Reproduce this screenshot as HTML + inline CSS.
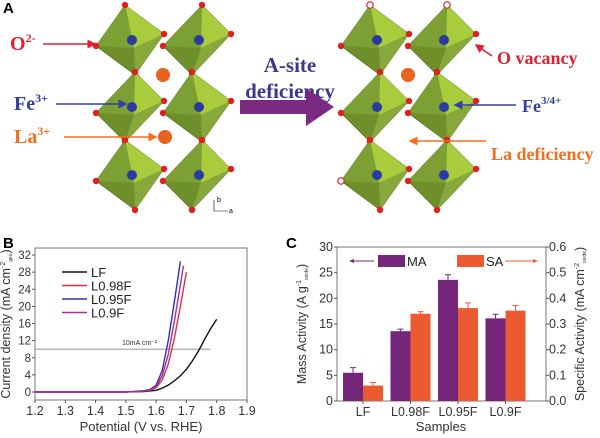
<!DOCTYPE html>
<html><head><meta charset="utf-8"><style>
body{margin:0;background:#fff;}
svg{display:block;font-family:"Liberation Sans",sans-serif;}
.ser{font-family:"Liberation Serif",serif;font-weight:bold;}
</style></head><body>
<svg width="600" height="438" viewBox="0 0 600 438">
<defs>
<marker id="arR" markerWidth="6" markerHeight="6" refX="5" refY="3" orient="auto"><path d="M0,0 L6,3 L0,6z" fill="#e02030"/></marker>
<marker id="arB" markerWidth="6" markerHeight="6" refX="5" refY="3" orient="auto"><path d="M0,0 L6,3 L0,6z" fill="#3040a0"/></marker>
<marker id="arO" markerWidth="6" markerHeight="6" refX="5" refY="3" orient="auto"><path d="M0,0 L6,3 L0,6z" fill="#f07020"/></marker>
</defs>
<g id="panelA"></g>
<text x="3" y="13" font-size="15" font-weight="bold">A</text>
<text x="10" y="50" class="ser" font-size="20" fill="#e02030">O<tspan font-size="12" dy="-8">2-</tspan></text>
<line x1="43" y1="44" x2="95" y2="44" stroke="#e02030" stroke-width="1.5" marker-end="url(#arR)"/>
<text x="14" y="110" class="ser" font-size="20" fill="#3040a0">Fe<tspan font-size="12" dy="-8">3+</tspan></text>
<line x1="56" y1="104" x2="126" y2="104" stroke="#3040a0" stroke-width="1.5" marker-end="url(#arB)"/>
<text x="14" y="143" class="ser" font-size="20" fill="#f07020">La<tspan font-size="12" dy="-8">3+</tspan></text>
<line x1="64" y1="137" x2="156" y2="137" stroke="#f07020" stroke-width="1.5" marker-end="url(#arO)"/>
<text x="290" y="72" class="ser" font-size="21" fill="#3a3a8c" text-anchor="middle">A-site</text>
<text x="290" y="98" class="ser" font-size="21" fill="#3a3a8c" text-anchor="middle">deficiency</text>
<path d="M240,100 L306,100 L306,88 L334,107 L306,126 L306,114 L240,114z" fill="#7a2a80"/>
<text x="497" y="64" class="ser" font-size="18" fill="#e02030">O vacancy</text>
<line x1="492" y1="56" x2="476" y2="45" stroke="#e02030" stroke-width="1.5" marker-end="url(#arR)"/>
<text x="522" y="112" class="ser" font-size="18" fill="#3040a0">Fe<tspan font-size="11" dy="-8">3/4+</tspan></text>
<line x1="516" y1="105" x2="455" y2="105" stroke="#3040a0" stroke-width="1.5" marker-end="url(#arB)"/>
<text x="491" y="160" class="ser" font-size="18" fill="#f07020">La deficiency</text>
<line x1="486" y1="141" x2="410" y2="141" stroke="#f07020" stroke-width="1.5" marker-end="url(#arO)"/>

<g id="panelB"></g>
<g id="panelC"></g>
</svg>
<script>
const NS="http://www.w3.org/2000/svg";
function mk(p,t,a,txt){const e=document.createElementNS(NS,t);for(const k in a)e.setAttribute(k,a[k]);if(txt!==undefined)e.textContent=txt;p.appendChild(e);return e;}
// Panel A
const A=document.getElementById('panelA');
const octCx=[130,197],octCy=[40,107,175];
[0,245].forEach((off,si)=>{
 octCy.forEach((cy,r)=>octCx.forEach((cx,c)=>{
  const x=cx+off,tilt=((r+c)%2?5:-5);
  const T=[x+tilt,cy-35],R=[x+34,cy-6],B=[x-tilt,cy+35],L=[x-34,cy+6],F=[x+4,cy+8];
  const g=mk(A,'g',{});
  
  
  mk(g,'polygon',{points:[T,R,B,L].join(' '),fill:'#6e8f2a',stroke:'#4f6a1c','stroke-width':0.6});
  mk(g,'polygon',{points:[T,R,F].join(' '),fill:'#a8cc3c'});
  mk(g,'polygon',{points:[T,L,F].join(' '),fill:'#7da034'});
  mk(g,'polygon',{points:[B,R,F].join(' '),fill:'#87a83a'});
  mk(g,'circle',{cx:x+2,cy:cy,r:5,fill:'#2a3aa0'});
  [T,R,B,L].forEach((p,i)=>{
   const vac=si===1&&((r===0&&c===1&&i===0)||(r===2&&c===0&&i===3)||(r===0&&c===0&&i===0));
   mk(g,'circle',{cx:p[0],cy:p[1],r:3.2,fill:vac?'#fff':'#e02020',stroke:'#e02020','stroke-width':vac?1.2:0});
  });
 }));
 const las=si===0?[[163,75],[165,137]]:[[408,75]];
 las.forEach(p=>{const c=mk(A,'circle',{cx:p[0],cy:p[1],r:7,fill:'#e8641c'});});
});
mk(A,'text',{x:217,y:202,'font-size':7},'b');mk(A,'text',{x:229,y:213,'font-size':7},'a');
mk(A,'path',{d:'M214,200 V211 H228',stroke:'#000',fill:'none','stroke-width':0.6});

// Panel B data
const bTicksX=[1.2,1.3,1.4,1.5,1.6,1.7,1.8,1.9];
const bTicksY=[0,4,8,12,16,20,24,28,32];
const bNames=['LF','L0.98F','L0.95F','L0.9F'];
const bColors=['#111','#e03040','#3030b0','#a030a0'];
const lfV=[1.2,1.5,1.56,1.6,1.62,1.64,1.66,1.68,1.70,1.72,1.74,1.76,1.78,1.80];
const lfI=[0,0,0.1,0.4,0.9,1.6,2.6,3.8,5.3,7.3,9.6,12.3,14.8,17];
const l98V=[1.2,1.5,1.56,1.58,1.60,1.62,1.64,1.66,1.68,1.70];
const l98I=[0,0,0.2,0.4,1.0,2.8,6.5,12.5,20,28];
const l95V=[1.2,1.5,1.56,1.58,1.60,1.62,1.64,1.66,1.68];
const l95I=[0,0,0.3,0.6,1.6,5,12,21,30.5];
const l9V=[1.2,1.5,1.56,1.58,1.60,1.62,1.64,1.66,1.68,1.69];
const l9I=[0,0,0.25,0.5,1.2,3.8,8.8,16.5,25,29.5];
const bSeriesV=[lfV,l98V,l95V,l9V],bSeriesI=[lfI,l98I,l95I,l9I];
const B=document.getElementById('panelB');
const bx=v=>35+(v-1.2)/(0.7)*212, by=i=>392-i/32*137;
mk(B,'text',{x:3,y:248,'font-size':15,'font-weight':'bold'},'B');
const bf=mk(B,'rect',{x:35,y:248,width:212,height:152,fill:'none',stroke:'#555','stroke-width':0.8});

bTicksX.forEach(t=>{mk(B,'line',{x1:bx(t),x2:bx(t),y1:400,y2:403,stroke:'#555'});
 const l=mk(B,'text',{x:bx(t),y:415,'font-size':12.5,'text-anchor':'middle',fill:'#333'},t.toFixed(1));
 });
bTicksY.forEach(t=>{mk(B,'line',{x1:32,x2:35,y1:by(t),y2:by(t),stroke:'#555'});
 const l=mk(B,'text',{x:31,y:by(t)+4,'font-size':11.5,'text-anchor':'end',fill:'#333'},t);
 });
let xt=mk(B,'text',{x:141,y:431,'font-size':13,'text-anchor':'middle',fill:'#333'},'Potential (V vs. RHE)');

let yt=mk(B,'text',{x:0,y:0,'font-size':12.5,'text-anchor':'middle',fill:'#333',transform:'translate(10,324) rotate(-90)'},'Current density (mA cm');

mk(yt,'tspan',{'font-size':7,dy:-5},'-2');mk(yt,'tspan',{'font-size':5,dy:7},'geo');mk(yt,'tspan',{dy:-2},')');
const ref=mk(B,'line',{x1:35,x2:bx(1.78),y1:by(10),y2:by(10),stroke:'#888','stroke-width':0.8});

mk(B,'text',{x:122,y:by(10)-4,'font-size':7,fill:'#333'},'10mA cm⁻²');
bSeriesV.forEach((vs,k)=>{
 const p=mk(B,'polyline',{points:vs.map((v,i)=>bx(v)+','+by(bSeriesI[k][i])).join(' '),fill:'none',stroke:bColors[k],'stroke-width':1.4});
 
 const ly=272+k*13.5;
 const le=mk(B,'g',{});
 mk(le,'line',{x1:62,x2:87,y1:ly,y2:ly,stroke:bColors[k],'stroke-width':1.6});
 mk(le,'text',{x:91,y:ly+5,'font-size':13,fill:'#222'},bNames[k]);
});

// Panel C data
const cCats=['LF','L0.98F','L0.95F','L0.9F'];
const maVals=[5.5,13.6,23.6,16.1];
const maErr=[1.0,0.4,1.0,0.8];
const saVals=[0.06,0.34,0.362,0.352];
const saErr=[0.012,0.008,0.02,0.02];
const cLeftTicks=[0,5,10,15,20,25,30];
const cRightTicks=[0.0,0.1,0.2,0.3,0.4,0.5,0.6];
const C=document.getElementById('panelC');
const cy=v=>401-v/30*154, cy2=v=>401-v/0.6*154;
const cxc=i=>363+i*47.5;
mk(C,'text',{x:286,y:248,'font-size':15,'font-weight':'bold'},'C');
const cf=mk(C,'rect',{x:337,y:247,width:209,height:154,fill:'none',stroke:'#555','stroke-width':0.8});

cLeftTicks.forEach(t=>{mk(C,'line',{x1:334,x2:337,y1:cy(t),y2:cy(t),stroke:'#555'});
 const l=mk(C,'text',{x:333,y:cy(t)+4,'font-size':12.5,'text-anchor':'end',fill:'#333'},t);
 });
cRightTicks.forEach(t=>{mk(C,'line',{x1:546,x2:549,y1:cy2(t),y2:cy2(t),stroke:'#555'});
 const l=mk(C,'text',{x:549,y:cy2(t)+4,'font-size':12.5,fill:'#333'},t.toFixed(1));
 });
cCats.forEach((c,i)=>{
 mk(C,'line',{x1:cxc(i),x2:cxc(i),y1:401,y2:404,stroke:'#555'});
 const l=mk(C,'text',{x:cxc(i),y:416,'font-size':12.5,'text-anchor':'middle',fill:'#333'},c);
 
 const w=20;
 const m=mk(C,'rect',{x:cxc(i)-w,y:cy(maVals[i]),width:w,height:401-cy(maVals[i]),fill:'#75257a'});
 
 mk(C,'line',{x1:cxc(i)-w/2,x2:cxc(i)-w/2,y1:cy(maVals[i]+maErr[i]),y2:cy(maVals[i]),stroke:'#75257a'});
 mk(C,'line',{x1:cxc(i)-w/2-3,x2:cxc(i)-w/2+3,y1:cy(maVals[i]+maErr[i]),y2:cy(maVals[i]+maErr[i]),stroke:'#75257a'});
 const s=mk(C,'rect',{x:cxc(i),y:cy2(saVals[i]),width:w,height:401-cy2(saVals[i]),fill:'#ec5a32'});
 
 mk(C,'line',{x1:cxc(i)+w/2,x2:cxc(i)+w/2,y1:cy2(saVals[i]+saErr[i]),y2:cy2(saVals[i]),stroke:'#ec5a32'});
 mk(C,'line',{x1:cxc(i)+w/2-3,x2:cxc(i)+w/2+3,y1:cy2(saVals[i]+saErr[i]),y2:cy2(saVals[i]+saErr[i]),stroke:'#ec5a32'});
});
let cx1=mk(C,'text',{x:441,y:431,'font-size':13,'text-anchor':'middle',fill:'#333'},'Samples');

let cyl=mk(C,'text',{x:0,y:0,'font-size':12.5,'text-anchor':'middle',fill:'#333',transform:'translate(306,324) rotate(-90)'},'Mass Activity (A g');

mk(cyl,'tspan',{'font-size':7,dy:-5},'-1');mk(cyl,'tspan',{'font-size':5,dy:7},'oxide');mk(cyl,'tspan',{dy:-2},')');
let cyr=mk(C,'text',{x:0,y:0,'font-size':12.5,'text-anchor':'middle',fill:'#333',transform:'translate(584,324) rotate(-90)'},'Specific Activity (mA cm');

mk(cyr,'tspan',{'font-size':7,dy:-5},'-2');mk(cyr,'tspan',{'font-size':5,dy:7},'oxide');mk(cyr,'tspan',{dy:-2},')');
const lg1=mk(C,'g',{});
mk(lg1,'line',{x1:350,x2:374,y1:261,y2:261,stroke:'#75257a'});mk(lg1,'path',{d:'M349,261 l5,-2 v4z',fill:'#75257a'});
mk(lg1,'rect',{x:378,y:255,width:27,height:12,fill:'#75257a'});
mk(lg1,'text',{x:407,y:266,'font-size':13,fill:'#222'},'MA');
const lg2=mk(C,'g',{});
mk(lg2,'rect',{x:457,y:255,width:27,height:12,fill:'#ec5a32'});
mk(lg2,'text',{x:486,y:266,'font-size':13,fill:'#222'},'SA');
mk(lg2,'line',{x1:505,x2:537,y1:261,y2:261,stroke:'#ec5a32'});mk(lg2,'path',{d:'M538,261 l-5,-2 v4z',fill:'#ec5a32'});
</script>
</body></html>
